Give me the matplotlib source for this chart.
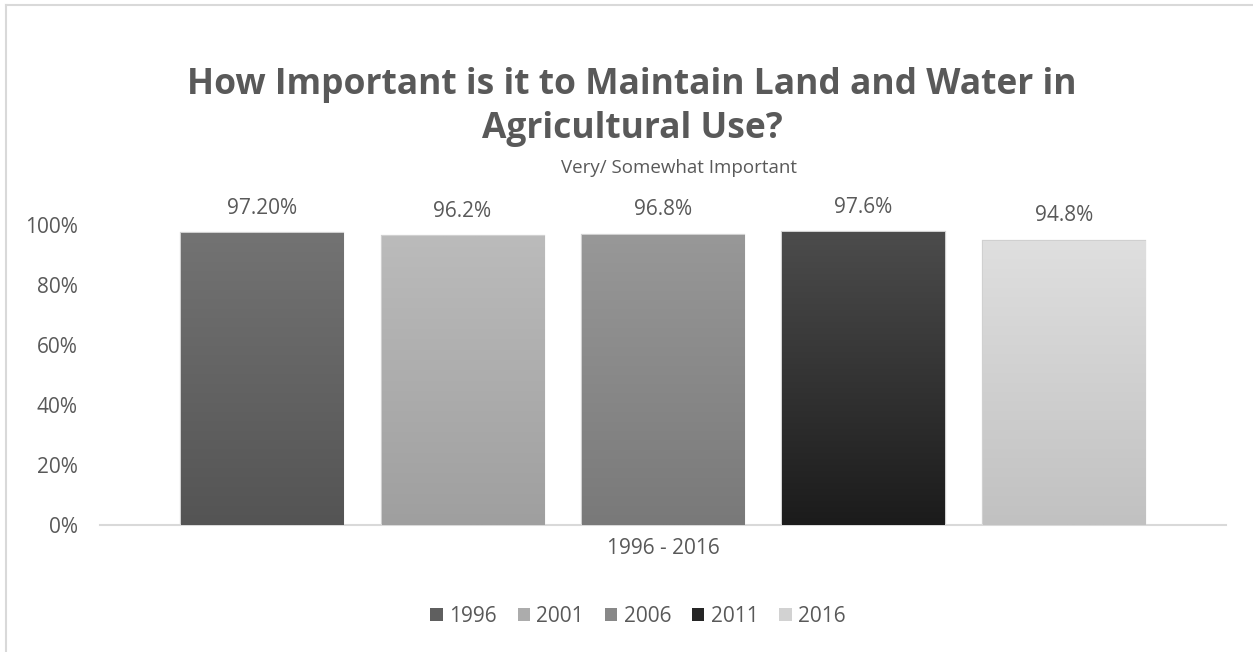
import matplotlib.pyplot as plt
import numpy as np
from matplotlib.colors import LinearSegmentedColormap
from matplotlib.patches import Patch
from matplotlib.lines import Line2D

# data
years = ["1996", "2001", "2006", "2011", "2016"]
values = [0.972, 0.962, 0.968, 0.976, 0.948]
value_labels = ["97.20%", "96.2%", "96.8%", "97.6%", "94.8%"]
category = "1996 - 2016"
# gradient (top, bottom) per series
grad_top = ["#737373", "#bbbbbb", "#989898", "#4c4c4c", "#dfdfdf"]
grad_bot = ["#545454", "#9f9f9f", "#797979", "#1b1b1b", "#c1c1c1"]
legend_colors = ["#5f5f5f", "#acacac", "#888888", "#262626", "#d2d2d2"]

TXT = "#595959"
plt.rcParams["font.family"] = ["Open Sans", "DejaVu Sans"]

fig = plt.figure(figsize=(12.53, 6.52), dpi=100)
ax = fig.add_axes([100 / 1253, 1 - 525 / 652, 1126 / 1253, 300 / 652])

x = np.arange(len(years))
width = 0.808
bars = ax.bar(x, values, width=width, facecolor="none", edgecolor="#d0d0d0",
              linewidth=1.6, zorder=2)

# vertical gradient inside each bar
for i, b in enumerate(bars):
    cmap = LinearSegmentedColormap.from_list("g%d" % i, [grad_bot[i], grad_top[i]])
    grad = np.linspace(0, 1, 256).reshape(-1, 1)
    x0 = b.get_x()
    im = ax.imshow(grad, extent=[x0, x0 + b.get_width(), 0, b.get_height()],
                   origin="lower", cmap=cmap, aspect="auto", zorder=3)
    im.set_clip_path(b)
    ax.annotate(value_labels[i], (x[i], values[i]), xytext=(0, 18),
                textcoords="offset points", ha="center", va="center",
                fontsize=15, color=TXT, annotation_clip=False)

ax.set_xlim(-width, len(years) - 1 + width)
ax.set_ylim(0, 1.0)
ax.set_yticks([0, 0.2, 0.4, 0.6, 0.8, 1.0])
ax.set_yticklabels(["0%", "20%", "40%", "60%", "80%", "100%"])
ax.tick_params(axis="y", length=0, pad=16, labelsize=15, labelcolor=TXT)
ax.set_xticks([])
for s in ["top", "right", "left"]:
    ax.spines[s].set_visible(False)
ax.spines["bottom"].set_color("#d9d9d9")
ax.spines["bottom"].set_linewidth(1.5)
ax.set_xlabel(category, fontsize=15, color=TXT, labelpad=9)

fig.text(632 / 1253, 1 - 85 / 652, "How Important is it to Maintain Land and Water in",
         ha="center", va="center", fontsize=25.5, fontweight="bold", color=TXT)
fig.text(632 / 1253, 1 - 129 / 652, "Agricultural Use?",
         ha="center", va="center", fontsize=25.5, fontweight="bold", color=TXT)
fig.text(679 / 1253, 1 - 168 / 652, "Very/ Somewhat Important",
         ha="center", va="center", fontsize=13.5, color=TXT)

handles = [Patch(facecolor=c, edgecolor="none") for c in legend_colors]
leg = fig.legend(handles, years, loc="center", bbox_to_anchor=(638 / 1253, 1 - 616 / 652),
                 ncol=5, frameon=False, fontsize=15, handlelength=0.6,
                 handleheight=0.6, handletextpad=0.3, columnspacing=1.0)
for t in leg.get_texts():
    t.set_color(TXT)

# chart area border (top and left visible)
fig.add_artist(Line2D([6 / 1253, 6 / 1253], [0, 1 - 5 / 652], transform=fig.transFigure,
                      color="#d9d9d9", lw=1.5))
fig.add_artist(Line2D([6 / 1253, 1], [1 - 5 / 652, 1 - 5 / 652], transform=fig.transFigure,
                      color="#d9d9d9", lw=1.5))

fig.savefig("out.png", dpi=100)
